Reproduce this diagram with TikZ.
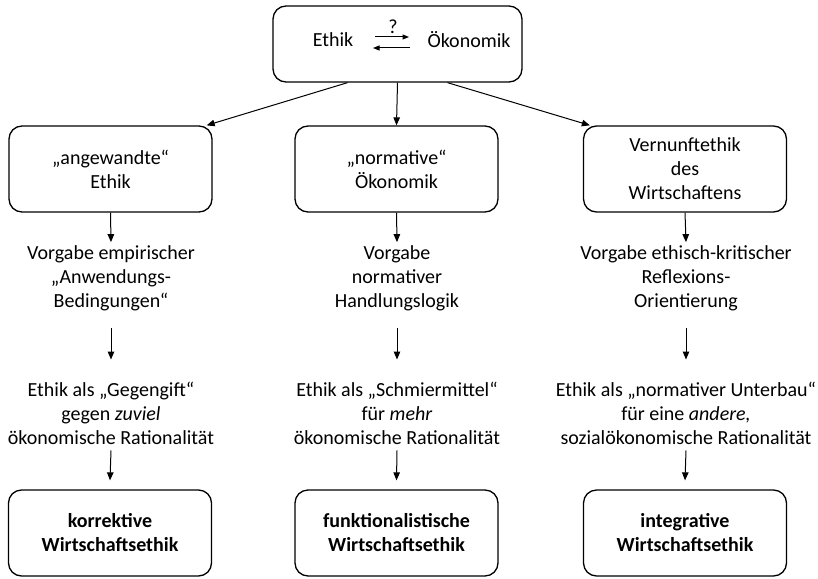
\documentclass[tikz,border=0pt]{standalone}
\usepackage{fontspec}
\setmainfont{Carlito}
\usetikzlibrary{arrows.meta,calc}
\begin{document}
\begin{tikzpicture}[x=1pt,y=-1pt,
  every node/.style={inner sep=0pt},
  lbl/.style={align=center, font=\fontsize{20}{24}\selectfont},
  box/.style={lbl, draw, line width=1.3pt, rounded corners=13pt,
    minimum width=203pt, minimum height=86pt},
  arr/.style={-{Triangle[length=8pt,width=6.5pt]}, line width=1pt},
  small/.style={-{Triangle[length=6.5pt,width=5pt]}, line width=1pt}]
\useasboundingbox (0,0) rectangle (818,578);

% top box with the two-way question
\node[box, minimum width=249pt, minimum height=76pt] (top) at (397.5,44) {};
\node[lbl] (ethik) at (333,40) {Ethik};
\node[lbl] (oek) at (469,40) {Ökonomik};
\node[lbl] (q) at (393,26.5) {?};
\coordinate (pa) at (375,37);
\coordinate (pb) at (409,37);
\coordinate (qa) at (410,48);
\coordinate (qb) at (373,48);
\draw[small] (pa) -- (pb);
\draw[small] (qa) -- (qb);

% second row boxes
\node[box] (b1) at (110.5,169) {„angewandte“\\Ethik};
\node[box] (b2) at (396.5,169) {„normative“\\Ökonomik};
\node[box] (b3) at (685,169) {Vernunftethik\\des\\Wirtschaftens};

\draw[arr] ($(top.south)+(-50,0)$) -- ($(b1.north east)+(-6,0)$);
\draw[arr] (top.south) -- (b2.north);
\draw[arr] ($(top.south)+(50,0)$) -- ($(b3.north west)+(7,0)$);

% middle texts
\node[lbl] (v1) at (111,278) {Vorgabe empirischer\\„Anwendungs-\\Bedingungen“};
\node[lbl] (v2) at (397,278) {Vorgabe\\normativer\\Handlungslogik};
\node[lbl] (v3) at (686,278) {Vorgabe ethisch-kritischer\\Reflexions-\\Orientierung};

\node[lbl] (e1) at (111,413) {Ethik als „Gegengift“\\gegen \textit{zuviel}\\ökonomische Rationalität};
\node[lbl] (e2) at (397,413) {Ethik als „Schmiermittel“\\für \textit{mehr}\\ökonomische Rationalität};
\node[lbl] (e3) at (686,413) {Ethik als „normativer Unterbau“\\für eine \textit{andere,}\\sozialökonomische Rationalität};

% bottom boxes
\node[box] (c1) at (110,533) {\textbf{korrektive}\\\textbf{Wirtschaftsethik}};
\node[box] (c2) at (396.5,533) {\textbf{funktionalistische}\\\textbf{Wirtschaftsethik}};
\node[box] (c3) at (685,533) {\textbf{integrative}\\\textbf{Wirtschaftsethik}};

% vertical arrows
\foreach \i in {1,2,3}{
  \draw[arr] (b\i.south) -- ($(v\i.north)+(0,-3)$);
  \draw[arr] ($(v\i.south)+(0,17)$) -- ($(e\i.north)+(0,-22)$);
  \draw[arr] ($(e\i.south)+(0,6)$) -- ($(c\i.north)+(0,-9)$);
}
\end{tikzpicture}
\end{document}
